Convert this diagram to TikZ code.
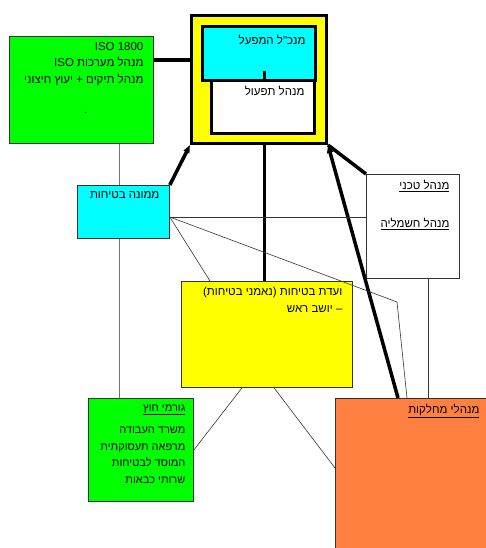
\documentclass[tikz,border=0pt]{standalone}
\usepackage{fontspec}
\usetikzlibrary{arrows.meta}
\newfontfamily\hebfont[Script=Hebrew]{Liberation Sans}
\TeXXeTstate=1
\newcommand{\rl}[1]{\beginR #1\endR}
\newcommand{\rlu}[1]{\underline{\beginR #1\endR}}
\newcommand{\boxtext}[3]{\parbox[t][#2][t]{#1}{\raggedleft #3}}
\definecolor{boxyellow}{RGB}{255,255,0}
\definecolor{boxcyan}{RGB}{0,255,255}
\definecolor{boxgreen}{RGB}{0,255,0}
\definecolor{boxorange}{RGB}{255,128,64}

\begin{document}
\begin{tikzpicture}[x=1pt, y=-1pt, font=\hebfont\fontsize{11.5}{16.5}\selectfont,
    orgbox/.style={draw=black!80, line width=0.8pt, anchor=north west, inner xsep=10pt, inner ysep=6pt},
    bossbox/.style={orgbox, draw=black, line width=3pt},
    heavy/.style={line width=3.5pt},
    tip/.style={-{Triangle[length=8pt,width=6pt]}},
    light/.style={draw=black!80, line width=0.6pt},
    grayline/.style={draw=black!55, line width=0.8pt}]
    \useasboundingbox (0,0) rectangle (486,548);
    \clip (0,0) rectangle (486,548);

    % Plant management block
    \node[bossbox, fill=boxyellow, minimum width=135pt, minimum height=128pt, inner sep=0pt] (plant) at (190,14) {};
    \node[bossbox, fill=boxcyan, inner ysep=9pt] (gm) at (201,25) {\boxtext{93pt}{36pt}{\rl{מנכ"ל המפעל}}};
    \node[bossbox, fill=white] (ops) at (210,79) {\boxtext{83pt}{41pt}{\rl{מנהל תפעול}}};

    % Other units
    \node[orgbox, fill=boxgreen] (iso) at (9,36) {\boxtext{124pt}{95pt}{ISO 1800\\
        \rl{מנהל מערכות \beginL ISO\endL}\\
        \rl{מנהל תיקים + יעוץ חיצוני}\\[14pt]
        .\hspace*{56pt}}};
    \node[orgbox, fill=boxcyan] (safety) at (77,185) {\boxtext{72pt}{41pt}{\rl{ממונה בטיחות}}};
    \node[orgbox, fill=white] (tech) at (366,174) {\boxtext{73pt}{92pt}{\rlu{מנהל טכני}\\[21pt]
        \rlu{מנהל חשמליה}}};
    \node[orgbox, fill=boxyellow] (committee) at (181,281) {\boxtext{151pt}{94pt}{\rl{ועדת בטיחות (נאמני בטיחות)}\\
        \rl{– יושב ראש}}};
    \node[orgbox, fill=boxgreen, inner xsep=8pt, font=\hebfont\fontsize{11}{16.5}\selectfont] (external) at (88,398) {\boxtext{89pt}{91pt}{\rlu{גורמי חוץ}\\[6pt]
        \rl{משרד העבודה}\\
        \rl{מרפאה תעסוקתית}\\
        \rl{המוסד לבטיחות}\\
        \rl{שרותי כבאות}}};
    \node[orgbox, fill=boxorange] (depts) at (335,398) {\boxtext{134pt}{150pt}{\rlu{מנהלי מחלקות}}};

    % Heavy links to the plant block
    \coordinate (isoport) at ([yshift=-24pt]iso.north east);
    \draw[heavy] (isoport) -- (isoport -| plant.west);
    \draw[heavy, tip] (safety.north east) -- (plant.south west);
    \coordinate (drop) at ([xshift=5.5pt]plant.south);
    \draw[heavy] (drop) -- (drop |- committee.north);
    \draw[line width=2.5pt] (gm.south -| drop) -- ++(0,-11);
    \draw[heavy] (plant.south east) -- (tech.north west);
    \draw[heavy, tip] ([xshift=63pt]depts.north west) -- (plant.south east);

    % Thin links from the safety officer
    \coordinate (hub) at ([yshift=-32pt]safety.north east);
    \coordinate (bend) at (397,302);
    \draw[light] (hub) -- (hub -| tech.west);
    \draw[light] (hub) -- ([xshift=29pt]committee.north west);
    \draw[light] (hub) -- (bend) -- ([xshift=72pt]depts.north west);
    \coordinate (techdrop) at ([xshift=62pt]tech.south west);
    \draw[light] (techdrop) -- (techdrop |- depts.north);

    % Left column
    \coordinate (isodrop) at ([xshift=110pt]iso.south west);
    \draw[grayline] (isodrop) -- (isodrop |- safety.north);
    \draw[grayline] (isodrop |- safety.south) -- (isodrop |- external.north);

    % Committee to the bottom boxes
    \draw[light] ([xshift=61pt]committee.south west) -- ([yshift=-52pt]external.north east);
    \draw[light] ([xshift=93pt]committee.south west) -- ([yshift=-70pt]depts.north west);
\end{tikzpicture}
\end{document}
